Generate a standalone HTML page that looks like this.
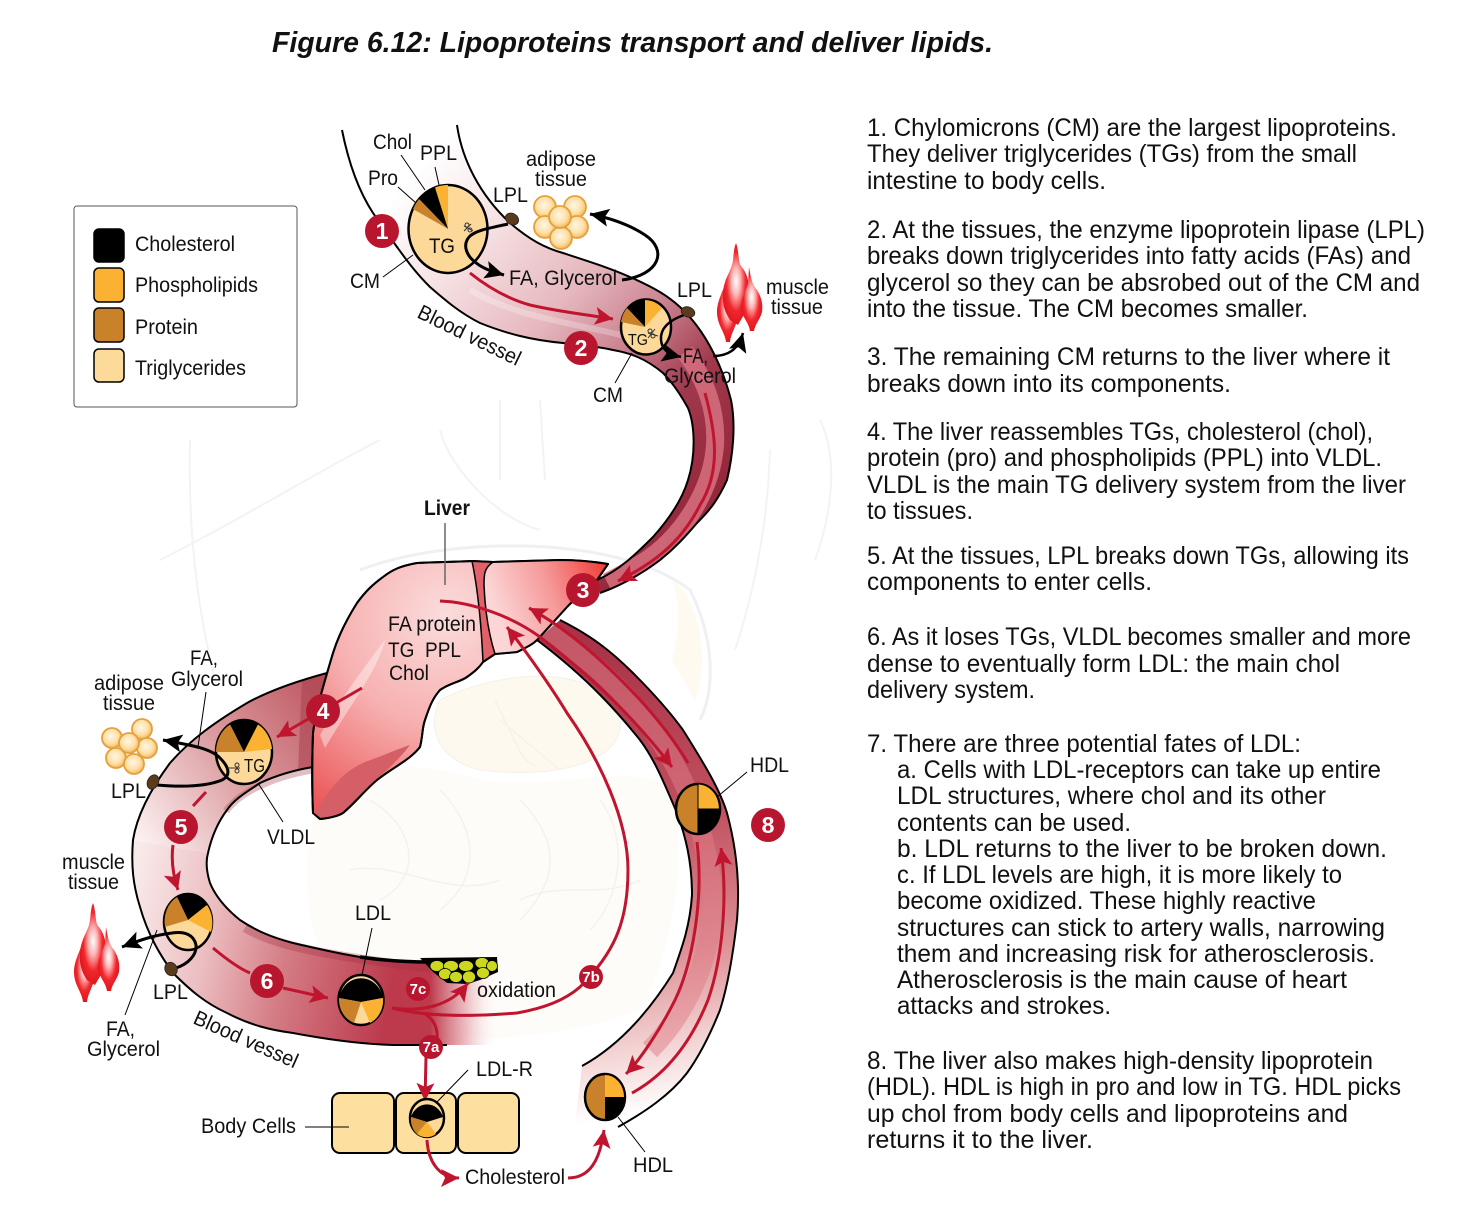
<!DOCTYPE html>
<html><head><meta charset="utf-8"><style>
html,body{margin:0;padding:0;background:#fff}
svg{display:block}
text{font-family:"Liberation Sans",Arial,sans-serif;fill:#111}
.l{font-size:21px}
.r{font-size:25px;fill:#0c0c0c}
</style></head><body>
<svg xmlns="http://www.w3.org/2000/svg" width="1474" height="1210" viewBox="0 0 1474 1210">
<defs>
<linearGradient id="v1" gradientUnits="userSpaceOnUse" x1="400" y1="190" x2="720" y2="480">
<stop offset="0" stop-color="#fff"/><stop offset=".2" stop-color="#f6e3e5"/><stop offset=".45" stop-color="#e6b8be"/><stop offset=".62" stop-color="#cc8592"/><stop offset=".8" stop-color="#a0384c"/><stop offset="1" stop-color="#96283c"/></linearGradient>
<linearGradient id="v2" gradientUnits="userSpaceOnUse" x1="560" y1="640" x2="640" y2="1115">
<stop offset="0" stop-color="#a83246"/><stop offset=".4" stop-color="#c0505f"/><stop offset=".68" stop-color="#dd9095"/><stop offset=".86" stop-color="#f3d2d2"/><stop offset="1" stop-color="#fff"/></linearGradient>
<linearGradient id="v3a" gradientUnits="userSpaceOnUse" x1="325" y1="700" x2="140" y2="835">
<stop offset="0" stop-color="#c05a64"/><stop offset=".5" stop-color="#dc9ea2"/><stop offset="1" stop-color="#fbeeee"/></linearGradient>
<linearGradient id="v3b" gradientUnits="userSpaceOnUse" x1="130" y1="895" x2="400" y2="950">
<stop offset="0" stop-color="#f9eaea"/><stop offset=".3" stop-color="#ecbfc2"/><stop offset=".6" stop-color="#d47c84"/><stop offset="1" stop-color="#bc3a4c"/></linearGradient>
<linearGradient id="fade" gradientUnits="userSpaceOnUse" x1="430" y1="0" x2="500" y2="0">
<stop offset="0" stop-color="#bc3a4c"/><stop offset=".5" stop-color="#e6a8ae" stop-opacity=".8"/><stop offset="1" stop-color="#fff" stop-opacity="0"/></linearGradient>
<radialGradient id="lv" gradientUnits="userSpaceOnUse" cx="445" cy="615" r="225">
<stop offset="0" stop-color="#fbdcdc"/><stop offset=".5" stop-color="#f7b0b0"/><stop offset="1" stop-color="#ec5a5c"/></radialGradient>
<linearGradient id="lr" gradientUnits="userSpaceOnUse" x1="495" y1="610" x2="605" y2="570">
<stop offset="0" stop-color="#fcd6d6"/><stop offset=".5" stop-color="#f59a9a"/><stop offset="1" stop-color="#f2423c"/></linearGradient>
<radialGradient id="fat" cx=".45" cy=".42" r=".6"><stop offset="0" stop-color="#fff6e4"/><stop offset=".6" stop-color="#fde0a8"/><stop offset="1" stop-color="#f4b456"/></radialGradient>
<radialGradient id="ms" cx=".5" cy=".47" r=".55"><stop offset="0" stop-color="#fff"/><stop offset=".3" stop-color="#ffb6b6"/><stop offset=".65" stop-color="#f0282e"/><stop offset="1" stop-color="#e0141c"/></radialGradient>
<marker id="rh" markerUnits="userSpaceOnUse" markerWidth="24" markerHeight="20" refX="18" refY="9" orient="auto"><path d="M0 0L18 9L0 18L4 9Z" fill="#c0152f"/></marker>
<marker id="bh" markerUnits="userSpaceOnUse" markerWidth="24" markerHeight="20" refX="19" refY="9" orient="auto"><path d="M0 0L19 9L0 18L4 9Z" fill="#000"/></marker>
<g id="muscle">
<path d="M727 278C730 290 738 300 738 312C738 325 731 332 730 342L726 342C725 332 717 325 717 312C717 300 724 290 727 278Z" fill="url(#ms)"/>
<path d="M736 243C739 250 738 262 741 266C748 274 750 285 749 295C748 310 742 318 738 325L730 320C725 312 722 305 723 292C724 280 730 272 732 265C734 258 733 250 736 243Z" fill="url(#ms)"/>
<path d="M749 267C751 278 752 284 757 290C762 298 763 305 762 312C760 320 755 324 754 331L750 331C749 323 743 318 741 310C740 300 746 290 748 284Z" fill="url(#ms)"/>
</g>
</defs>

<!-- faint anatomy -->
<g fill="none" stroke="#f5f3f0" stroke-width="2">
<path d="M190 440C188 520 195 600 215 680"/><path d="M770 450C768 520 755 590 735 650"/>
<path d="M160 560C240 520 320 470 380 440"/><path d="M820 420C840 460 830 520 815 560"/>
<path d="M500 400L500 480M540 400L545 480"/>
<path d="M440 430C450 470 500 520 540 530"/>
</g>
<path d="M360 570C450 535 620 535 690 590C715 640 715 690 700 720" fill="none" stroke="#eef0f2" stroke-width="3"/>
<path d="M440 700C500 670 600 660 620 720C625 760 560 780 480 770C440 760 425 730 440 700Z" fill="#fdf9ef" stroke="#f2f1ea"/>
<path d="M320 800C360 760 420 760 480 780C560 790 640 760 672 790C690 860 670 960 640 1010C560 1040 440 1050 380 1020C310 980 290 880 320 800Z" fill="#fefcf8"/>
<g fill="none" stroke="#f5f2ee" stroke-width="1.5">
<path d="M370 800C420 830 420 880 380 900M440 790C480 830 480 880 440 910M520 800C560 840 560 880 520 920M600 800C630 840 620 900 590 930"/>
<path d="M350 870C400 860 450 900 500 880M520 900C560 880 600 900 640 880"/>
<path d="M495 700C520 750 520 760 535 765M500 720L560 770"/>
</g>
<path d="M672 580C700 600 710 660 695 700L672 660C680 630 680 600 672 580Z" fill="#fefaef"/>

<!-- vessel 1 -->
<path d="M457 125C462 160 480 195 510 223C530 240 545 248 563 253C590 262 610 268 630 277C655 288 668 296 680 307C705 330 722 365 731 400C736 425 733 455 727 480C718 500 710 510 697 523C685 537 675 548 660 560C640 575 620 586 600 593L597 580C620 570 637 553 653 537C670 518 682 500 688 480C696 455 695 425 688 408C678 390 670 380 663 373C645 358 630 353 613 350C590 345 575 345 563 343C530 340 505 333 480 323C460 313 445 300 430 287C415 272 405 258 397 247L373 213C358 190 348 160 342 130Z" fill="url(#v1)"/>
<path d="M685 352C705 378 717 410 715 445C712 490 682 538 642 563C628 571 615 578 607 582" fill="none" stroke="#d6707f" stroke-width="18" opacity=".85"/>
<path d="M470 290C520 320 590 325 640 340" fill="none" stroke="#fff" stroke-width="6" opacity=".25"/>
<path d="M342 130C348 160 358 190 373 213L397 247C405 258 415 272 430 287C445 300 460 313 480 323C505 333 530 340 563 343C575 345 590 345 613 350C630 353 645 358 663 373C670 380 678 390 688 408C695 425 696 455 688 480C682 500 670 518 653 537C637 553 620 570 597 580" fill="none" stroke="#000" stroke-width="2"/>
<path d="M457 125C462 160 480 195 510 223C530 240 545 248 563 253C590 262 610 268 630 277C655 288 668 296 680 307C705 330 722 365 731 400C736 425 733 455 727 480C718 500 710 510 697 523C685 537 675 548 660 560C640 575 620 586 600 593" fill="none" stroke="#000" stroke-width="2"/>

<!-- vessel 2 -->
<path d="M560 620C590 635 610 650 633 673C655 695 670 712 683 730C705 765 720 790 727 813C737 850 740 885 737 920C733 955 728 985 720 1010C710 1035 700 1055 687 1073C670 1095 645 1112 620 1127L575 1125L582 1066C620 1045 650 1010 673 973C683 945 690 925 692 895C692 860 685 835 677 813C665 785 655 760 640 740C620 715 590 680 537 640Z" fill="url(#v2)"/>
<path d="M545 630C600 665 640 705 672 760C695 800 708 850 712 890C715 950 690 1010 650 1050" fill="none" stroke="#e07e88" stroke-width="20" opacity=".5"/>
<path d="M560 620C590 635 610 650 633 673C655 695 670 712 683 730C705 765 720 790 727 813C737 850 740 885 737 920C733 955 728 985 720 1010C710 1035 700 1055 687 1073C670 1095 645 1112 618 1127" fill="none" stroke="#000" stroke-width="2"/>
<path d="M582 1066C620 1045 650 1010 673 973C683 945 690 925 692 895C692 860 685 835 677 813C665 785 655 760 640 740C620 715 590 680 537 640" fill="none" stroke="#000" stroke-width="2"/>

<!-- vessel 3 -->
<path d="M327 673C290 683 265 693 247 703C215 722 190 740 170 763C150 790 137 815 133 840L208 853C212 835 218 822 227 810C235 798 250 790 260 783C275 776 295 770 313 767Z" fill="url(#v3a)"/>
<path d="M327 673L313 767C308 768 303 769 298 771L302 681Z" fill="#a94450" opacity=".55"/>
<path d="M226 811C236 798 250 790 262 785C276 778 295 773 312 770" fill="none" stroke="#a94450" stroke-width="7" opacity=".35"/>
<path d="M133 840C131 865 133 885 140 907C148 935 160 955 173 973C190 990 205 1003 227 1013C250 1025 270 1030 293 1033C330 1040 360 1044 393 1045L431 1045L431 963L427 963C400 962 380 960 360 957C335 953 315 948 293 943C270 937 255 930 240 920C225 908 215 895 210 883C206 870 206 860 208 853Z" fill="url(#v3b)"/>
<path d="M245 928C275 945 320 955 430 968" fill="none" stroke="#9a2a3e" stroke-width="9" opacity=".3"/>
<path d="M430 963H505V1045H430Z" fill="url(#fade)"/>
<path d="M327 673C290 683 265 693 247 703C215 722 190 740 170 763C150 790 137 815 133 840C131 865 133 885 140 907C148 935 160 955 173 973C190 990 205 1003 227 1013C250 1025 270 1030 293 1033C330 1040 360 1044 393 1045L447 1045" fill="none" stroke="#000" stroke-width="2"/>
<path d="M313 767C295 770 275 776 260 783C250 790 235 798 227 810C218 822 212 835 208 853C206 860 206 870 210 883C215 895 225 908 240 920C255 930 270 937 293 943C315 948 335 953 360 957" fill="none" stroke="#000" stroke-width="2"/>
<path d="M360 957C380 960 400 962 430 962" fill="none" stroke="#000" stroke-width="3.5"/>

<!-- liver -->
<path d="M472 561C450 562 435 562 417 563C400 566 392 570 383 577C372 585 365 592 357 603C345 622 338 637 333 653C322 690 316 710 313 733C312 760 312 790 313 813L320 819C330 818 338 816 343 813C355 803 365 790 377 780C392 768 410 760 420 747C423 735 422 728 425 720C430 705 433 698 440 690C450 683 460 682 467 677C474 672 479 668 483 662L495 654L517 652C525 648 532 645 537 640C548 628 558 617 567 607C577 596 588 590 597 580L608 564C590 561 575 560 560 560L493 562Z" fill="url(#lv)" stroke="#000" stroke-width="2" stroke-linejoin="round"/>
<path d="M493 562C487 566 484 570 484 580C484 600 487 620 489 640C490 650 493 652 495 654L517 652C525 648 532 645 537 640C548 628 558 617 567 607C577 596 588 590 597 580L608 564C590 561 575 560 560 560Z" fill="url(#lr)"/>
<path d="M472 561L493 562C484 568 484 575 484 585C485 610 489 635 495 654L483 662C482 640 480 600 472 561Z" fill="#e0616a" stroke="#000" stroke-width="1.5"/>
<path d="M313 813C325 800 335 775 365 762C385 755 395 750 410 745C395 765 375 780 355 800C345 812 330 818 320 819Z" fill="#d55f66"/>
<path d="M320 735C340 700 362 670 385 640C378 670 350 705 325 748Z" fill="#fff" opacity=".4"/>
<path d="M472 561C450 562 435 562 417 563C400 566 392 570 383 577C372 585 365 592 357 603C345 622 338 637 333 653C322 690 316 710 313 733C312 760 312 790 313 813L320 819C330 818 338 816 343 813C355 803 365 790 377 780C392 768 410 760 420 747C423 735 422 728 425 720C430 705 433 698 440 690C450 683 460 682 467 677C474 672 479 668 483 662L495 654L517 652C525 648 532 645 537 640C548 628 558 617 567 607C577 596 588 590 597 580L608 564C590 561 575 560 560 560L493 562Z" fill="none" stroke="#000" stroke-width="2" stroke-linejoin="round"/>

<!-- cells -->
<g fill="#fddf9f" stroke="#000" stroke-width="2">
<rect x="332" y="1093" width="62" height="60" rx="8"/><rect x="396" y="1093" width="60" height="60" rx="8"/><rect x="458" y="1093" width="61" height="60" rx="8"/>
</g>

<!-- plaque -->
<path d="M420 958L497 957L498 972L480 980L467 984L447 983L433 972Z" fill="#000"/>
<g fill="#cbd81f" stroke="#000" stroke-width=".8">
<ellipse cx="437" cy="966" rx="7" ry="5.500"/><ellipse cx="451" cy="966" rx="7.500" ry="5.500"/><ellipse cx="466" cy="966" rx="7.500" ry="5.500"/><ellipse cx="482" cy="963" rx="7" ry="5.500"/><ellipse cx="492" cy="966" rx="5.500" ry="5.500"/><ellipse cx="445" cy="974" rx="6.500" ry="5.500"/><ellipse cx="456" cy="977" rx="6.500" ry="5.500"/><ellipse cx="469" cy="977" rx="6.500" ry="6"/><ellipse cx="483" cy="973" rx="6.500" ry="5.500"/>
</g>

<!-- red arrows -->
<g fill="none" stroke="#c0152f" stroke-width="3">
<path d="M470 273C485 285 505 298 530 305C560 312 590 315 613 319" marker-end="url(#rh)"/>
<path d="M705 393C715 430 722 470 700 505C680 545 650 565 618 581" marker-end="url(#rh)"/>
<path d="M440 601C470 602 510 615 540 637C570 660 625 705 672 767" marker-end="url(#rh)"/>
<path d="M688 763C665 725 635 692 600 660C580 642 555 622 529 608" marker-end="url(#rh)"/>
<path d="M697 842C704 900 692 965 675 1000C660 1030 640 1060 626 1074" marker-end="url(#rh)"/>
<path d="M632 1093C665 1075 690 1045 708 1000C722 960 728 900 721 848" marker-end="url(#rh)"/>
<path d="M392 1008C430 1018 480 1016 517 1013C545 1008 565 1000 580 987C612 955 628 925 628 870C628 820 600 760 567 713C550 685 525 650 507 627" marker-end="url(#rh)"/>
<path d="M392 1008C420 1012 450 1007 468 983" marker-end="url(#rh)"/>
<path d="M424 1013C435 1020 438 1030 437 1040L426 1057L425 1101" marker-end="url(#rh)"/>
<path d="M427 1140C428 1160 438 1178 459 1178" marker-end="url(#rh)"/>
<path d="M568 1178C590 1178 600 1160 604 1130" marker-end="url(#rh)"/>
<path d="M362 688L277 737" marker-end="url(#rh)"/>
<path d="M206 792L193 806M173 845C171 860 173 875 178 890" marker-end="url(#rh)"/>
<path d="M213 948C225 958 238 968 250 973M283 988L328 998" marker-end="url(#rh)"/>
</g>

<!-- leader lines -->
<g stroke="#000" stroke-width="1" fill="none">
<path d="M383 277L413 255M398 187L416 203M401 155L425 190M435 167L439 185M615 383L632 353M206 692L198 747M258 783L283 822M372 928L362 975M125 1015L157 930M747 772L717 797M618 1117L645 1152M468 1070L437 1102M305 1127H349"/>
</g>
<path d="M445 523V585" stroke="#666" stroke-width="1.500"/>

<!-- CM 1 -->
<ellipse cx="448" cy="229" rx="39.500" ry="44" fill="#fcd998" stroke="#000" stroke-width="2.500"/>
<path d="M448 229L448 185A39.500 44 0 0 0 435 187.500Z" fill="#fbb233"/>
<path d="M448 229L435 187.500A39.500 44 0 0 0 419 199Z" fill="#000"/>
<path d="M448 229L419 199A39.500 44 0 0 0 413 209Z" fill="#c9822a"/>
<!-- CM 2 -->
<ellipse cx="646" cy="327" rx="25" ry="27.500" fill="#fcd998" stroke="#000" stroke-width="2.500"/>
<path d="M645 327V300A25 27 0 0 1 662 308Z" fill="#fbb233"/>
<path d="M645 327V300A25 27 0 0 0 627 308Z" fill="#000"/>
<path d="M645 327L627 308A25 27 0 0 0 621 322Z" fill="#c9822a"/>
<!-- VLDL -->
<ellipse cx="244" cy="752" rx="28" ry="32" fill="#fcd998" stroke="#000" stroke-width="2.500"/>
<path d="M244 752L230 724.500A28 32 0 0 1 258 724.500Z" fill="#000"/>
<path d="M244 752L258 724.500A28 32 0 0 1 272 749Z" fill="#fbb233"/>
<path d="M244 752L230 724.500A28 32 0 0 0 216 752Z" fill="#c9822a"/>
<!-- 5 -->
<ellipse cx="188" cy="922" rx="24" ry="28" fill="#fcd998" stroke="#000" stroke-width="2.500"/>
<path d="M188 920L177 897A24 28 0 0 1 207 905Z" fill="#000"/>
<path d="M188 920L207 905A24 28 0 0 1 211 932Z" fill="#fbb233"/>
<path d="M188 920L177 897A24 28 0 0 0 165 927Z" fill="#c9822a"/>
<!-- LDL -->
<ellipse cx="361" cy="1000" rx="22.500" ry="25" fill="#fcd998" stroke="#000" stroke-width="2.500"/>
<path d="M339 998A22.500 25 0 0 1 383 998L361 1002Z" fill="#000"/>
<path d="M361 1002L339 998A22.500 25 0 0 0 354 1023Z" fill="#c9822a"/>
<path d="M361 1002L383 998A22.500 25 0 0 1 370 1023Z" fill="#fbb233"/>
<!-- HDL -->
<ellipse cx="698" cy="809" rx="22" ry="25" fill="#c9822a" stroke="#000" stroke-width="2.500"/>
<path d="M698 809V784.500A21 24.500 0 0 1 719 809Z" fill="#fbb233"/>
<path d="M698 809H719A21 24.500 0 0 1 698 833.500Z" fill="#000"/>
<path d="M698 784V834M698 809H720" stroke="#000" stroke-width="1"/>
<ellipse cx="605" cy="1097" rx="20" ry="23" fill="#c9822a" stroke="#000" stroke-width="2.500"/>
<path d="M605 1097V1075A19 22 0 0 1 624 1097Z" fill="#fbb233"/>
<path d="M605 1097H624A19 22 0 0 1 605 1119Z" fill="#000"/>
<!-- Cell LDL -->
<ellipse cx="427" cy="1118" rx="17" ry="19" fill="#fcd998" stroke="#000" stroke-width="2.500"/>
<path d="M411 1117A17 19 0 0 1 443 1117L427 1122Z" fill="#000"/>
<path d="M427 1122L411 1117A17 19 0 0 0 417 1134Z" fill="#c9822a"/>
<path d="M427 1122L417 1134A17 19 0 0 0 436 1134Z" fill="#fbb233"/>

<!-- enzymes + black arrows -->
<g fill="none" stroke="#000" stroke-width="3">
<path d="M508 224C490 228 477 230 470 236C462 244 466 255 475 262C482 268 490 271 504 275" marker-end="url(#bh)"/>
<path d="M622 280C660 275 668 250 645 235C630 225 610 218 590 214" marker-end="url(#bh)"/>
<path d="M684 315C670 320 660 328 661 340C662 350 668 354 681 357" stroke-width="2.500" marker-end="url(#bh)"/>
<path d="M713 356C728 356 738 350 743 333" stroke-width="2.500" marker-end="url(#bh)"/>
<path d="M157 785C180 787 205 787 222 780C232 775 228 766 220 758C210 748 190 745 163 740" marker-end="url(#bh)"/>
<path d="M176 968C188 964 197 955 196 945C194 935 185 931 172 933C155 935 140 940 122 947" marker-end="url(#bh)"/>
</g>
<g fill="#5c3a1c" stroke="#222" stroke-width=".8">
<ellipse cx="512" cy="219" rx="7" ry="5.500" transform="rotate(30 512 219)"/>
<ellipse cx="688" cy="312" rx="7" ry="5" transform="rotate(20 688 312)"/>
<ellipse cx="153" cy="782" rx="5.500" ry="7.500" transform="rotate(25 153 782)"/>
<ellipse cx="171" cy="969" rx="6" ry="7" transform="rotate(-30 171 969)"/>
</g>
<!-- scissors -->
<g fill="none" stroke="#333" stroke-width="1">
<circle cx="467" cy="225" r="2"/><circle cx="470" cy="230" r="2"/><path d="M471 224L464 231M464 226L473 231"/>
<circle cx="650" cy="331" r="2"/><circle cx="653" cy="336" r="2"/><path d="M655 329L648 338M648 333L658 336"/>
<circle cx="237" cy="765" r="2"/><circle cx="237" cy="771" r="2"/><path d="M228 768H240"/>
</g>

<!-- fat -->
<g fill="url(#fat)" stroke="#e6a03c" stroke-width="1.800">
<circle cx="545" cy="207" r="11"/><circle cx="575" cy="207" r="11"/><circle cx="545" cy="227" r="11"/><circle cx="577" cy="227" r="11"/><circle cx="561" cy="238" r="11"/><circle cx="560" cy="217" r="11"/>
<circle cx="112" cy="738" r="10"/><circle cx="142" cy="729" r="10"/><circle cx="147" cy="748" r="10"/><circle cx="116" cy="758" r="10"/><circle cx="134" cy="764" r="10"/><circle cx="129" cy="743" r="10"/>
</g>
<use href="#muscle"/>
<use href="#muscle" transform="translate(-643,660)"/>

<!-- badges -->
<g fill="#b8162e">
<circle cx="382" cy="231" r="17"/><circle cx="581" cy="348" r="17"/><circle cx="583" cy="590" r="17"/><circle cx="323" cy="711" r="17"/><circle cx="181" cy="827" r="17"/><circle cx="267" cy="981" r="17"/><circle cx="768" cy="825" r="17"/>
<circle cx="431" cy="1047" r="12"/><circle cx="591" cy="977" r="12"/><circle cx="418" cy="989" r="12"/>
</g>
<g style="font-weight:bold;font-size:23px" text-anchor="middle">
<text x="382" y="239" style="fill:#fff">1</text><text x="581" y="356" style="fill:#fff">2</text><text x="583" y="598" style="fill:#fff">3</text><text x="323" y="719" style="fill:#fff">4</text><text x="181" y="835" style="fill:#fff">5</text><text x="267" y="989" style="fill:#fff">6</text><text x="768" y="833" style="fill:#fff">8</text>
</g>
<g style="font-weight:bold;font-size:15px" text-anchor="middle">
<text x="431" y="1052" style="fill:#fff">7a</text><text x="591" y="982" style="fill:#fff">7b</text><text x="418" y="994" style="fill:#fff">7c</text>
</g>

<!-- legend -->
<rect x="74" y="206" width="223" height="201" rx="3" fill="#fff" stroke="#555" stroke-width="1"/>
<g stroke="#000" stroke-width="1.500">
<rect x="94" y="229" width="30" height="33" rx="5" fill="#000"/>
<rect x="94" y="268" width="30" height="34" rx="5" fill="#fbb233"/>
<rect x="94" y="308" width="30" height="34" rx="5" fill="#c9822a"/>
<rect x="94" y="349" width="30" height="33" rx="5" fill="#fcdb9a"/>
</g>
<g class="l" transform="translate(0,-1)">
<text x="135" y="252" textLength="100" lengthAdjust="spacingAndGlyphs">Cholesterol</text>
<text x="135" y="293" textLength="123" lengthAdjust="spacingAndGlyphs">Phospholipids</text>
<text x="135" y="335" textLength="63" lengthAdjust="spacingAndGlyphs">Protein</text>
<text x="135" y="376" textLength="111" lengthAdjust="spacingAndGlyphs">Triglycerides</text>
</g>

<!-- diagram labels -->
<g class="l" transform="translate(0,-1)">
<text x="373" y="150" textLength="39" lengthAdjust="spacingAndGlyphs">Chol</text>
<text x="420" y="161" textLength="37" lengthAdjust="spacingAndGlyphs">PPL</text>
<text x="368" y="186" textLength="30" lengthAdjust="spacingAndGlyphs">Pro</text>
<text x="526" y="167" textLength="70" lengthAdjust="spacingAndGlyphs">adipose</text>
<text x="535" y="187" textLength="52" lengthAdjust="spacingAndGlyphs">tissue</text>
<text x="493" y="203" textLength="35" lengthAdjust="spacingAndGlyphs">LPL</text>
<text x="350" y="289" textLength="30" lengthAdjust="spacingAndGlyphs">CM</text>
<text x="429" y="254" textLength="26" lengthAdjust="spacingAndGlyphs">TG</text>
<text x="509" y="286" textLength="108" lengthAdjust="spacingAndGlyphs">FA, Glycerol</text>
<text x="677" y="298" textLength="35" lengthAdjust="spacingAndGlyphs">LPL</text>
<text x="766" y="295" textLength="63" lengthAdjust="spacingAndGlyphs">muscle</text>
<text x="771" y="315" textLength="52" lengthAdjust="spacingAndGlyphs">tissue</text>
<text x="683" y="364" textLength="25" lengthAdjust="spacingAndGlyphs">FA,</text>
<text x="664" y="384" textLength="72" lengthAdjust="spacingAndGlyphs">Glycerol</text>
<text x="593" y="403" textLength="30" lengthAdjust="spacingAndGlyphs">CM</text>
<text x="628" y="346" style="font-size:16px" textLength="20" lengthAdjust="spacingAndGlyphs">TG</text>
<text x="416" y="318" transform="rotate(26 416 318)" textLength="112" lengthAdjust="spacingAndGlyphs">Blood vessel</text>
<text x="192" y="1024" transform="rotate(24 192 1024)" textLength="112" lengthAdjust="spacingAndGlyphs">Blood vessel</text>
<text x="424" y="516" style="font-weight:bold" textLength="46" lengthAdjust="spacingAndGlyphs">Liver</text>
<text x="388" y="632" textLength="88" lengthAdjust="spacingAndGlyphs">FA protein</text>
<text x="388" y="658" textLength="73" lengthAdjust="spacingAndGlyphs" xml:space="preserve">TG  PPL</text>
<text x="389" y="681" textLength="40" lengthAdjust="spacingAndGlyphs">Chol</text>
<text x="190" y="666" textLength="28" lengthAdjust="spacingAndGlyphs">FA,</text>
<text x="171" y="687" textLength="72" lengthAdjust="spacingAndGlyphs">Glycerol</text>
<text x="94" y="691" textLength="70" lengthAdjust="spacingAndGlyphs">adipose</text>
<text x="103" y="711" textLength="52" lengthAdjust="spacingAndGlyphs">tissue</text>
<text x="111" y="799" textLength="35" lengthAdjust="spacingAndGlyphs">LPL</text>
<text x="244" y="773" style="font-size:18px" textLength="21" lengthAdjust="spacingAndGlyphs">TG</text>
<text x="267" y="845" textLength="48" lengthAdjust="spacingAndGlyphs">VLDL</text>
<text x="62" y="870" textLength="63" lengthAdjust="spacingAndGlyphs">muscle</text>
<text x="68" y="890" textLength="51" lengthAdjust="spacingAndGlyphs">tissue</text>
<text x="355" y="921" textLength="36" lengthAdjust="spacingAndGlyphs">LDL</text>
<text x="153" y="1000" textLength="35" lengthAdjust="spacingAndGlyphs">LPL</text>
<text x="106" y="1037" textLength="29" lengthAdjust="spacingAndGlyphs">FA,</text>
<text x="87" y="1057" textLength="73" lengthAdjust="spacingAndGlyphs">Glycerol</text>
<text x="477" y="998" textLength="79" lengthAdjust="spacingAndGlyphs">oxidation</text>
<text x="750" y="773" textLength="39" lengthAdjust="spacingAndGlyphs">HDL</text>
<text x="476" y="1077" textLength="57" lengthAdjust="spacingAndGlyphs">LDL-R</text>
<text x="201" y="1134" textLength="95" lengthAdjust="spacingAndGlyphs">Body Cells</text>
<text x="465" y="1185" textLength="100" lengthAdjust="spacingAndGlyphs">Cholesterol</text>
<text x="633" y="1173" textLength="40" lengthAdjust="spacingAndGlyphs">HDL</text>
</g>

<!-- title -->
<text x="272" y="52" style="font-size:29px;font-weight:bold;font-style:italic" textLength="721" lengthAdjust="spacingAndGlyphs">Figure 6.12: Lipoproteins transport and deliver lipids.</text>

<!-- right text -->
<g class="r" transform="translate(0,-1)">
<text x="867" y="137" textLength="530" lengthAdjust="spacingAndGlyphs">1. Chylomicrons (CM) are the largest lipoproteins.</text>
<text x="867" y="163" textLength="490" lengthAdjust="spacingAndGlyphs">They deliver triglycerides (TGs) from the small</text>
<text x="867" y="190" textLength="239" lengthAdjust="spacingAndGlyphs">intestine to body cells.</text>
<text x="867" y="239" textLength="558" lengthAdjust="spacingAndGlyphs">2. At the tissues, the enzyme lipoprotein lipase (LPL)</text>
<text x="867" y="265" textLength="544" lengthAdjust="spacingAndGlyphs">breaks down triglycerides into fatty acids (FAs) and</text>
<text x="867" y="292" textLength="553" lengthAdjust="spacingAndGlyphs">glycerol so they can be absrobed out of the CM and</text>
<text x="867" y="318" textLength="441" lengthAdjust="spacingAndGlyphs">into the tissue. The CM becomes smaller.</text>
<text x="867" y="366" textLength="523" lengthAdjust="spacingAndGlyphs">3. The remaining CM returns to the liver where it</text>
<text x="867" y="393" textLength="364" lengthAdjust="spacingAndGlyphs">breaks down into its components.</text>
<text x="867" y="441" textLength="506" lengthAdjust="spacingAndGlyphs">4. The liver reassembles TGs, cholesterol (chol),</text>
<text x="867" y="467" textLength="515" lengthAdjust="spacingAndGlyphs">protein (pro) and phospholipids (PPL) into VLDL.</text>
<text x="867" y="494" textLength="539" lengthAdjust="spacingAndGlyphs">VLDL is the main TG delivery system from the liver</text>
<text x="867" y="520" textLength="106" lengthAdjust="spacingAndGlyphs">to tissues.</text>
<text x="867" y="565" textLength="542" lengthAdjust="spacingAndGlyphs">5. At the tissues, LPL breaks down TGs, allowing its</text>
<text x="867" y="591" textLength="285" lengthAdjust="spacingAndGlyphs">components to enter cells.</text>
<text x="867" y="646" textLength="544" lengthAdjust="spacingAndGlyphs">6. As it loses TGs, VLDL becomes smaller and more</text>
<text x="867" y="673" textLength="473" lengthAdjust="spacingAndGlyphs">dense to eventually form LDL: the main chol</text>
<text x="867" y="699" textLength="168" lengthAdjust="spacingAndGlyphs">delivery system.</text>
<text x="867" y="753" textLength="434" lengthAdjust="spacingAndGlyphs">7. There are three potential fates of LDL:</text>
<text x="897" y="779" textLength="484" lengthAdjust="spacingAndGlyphs">a. Cells with LDL-receptors can take up entire</text>
<text x="897" y="805" textLength="429" lengthAdjust="spacingAndGlyphs">LDL structures, where chol and its other</text>
<text x="897" y="832" textLength="234" lengthAdjust="spacingAndGlyphs">contents can be used.</text>
<text x="897" y="858" textLength="490" lengthAdjust="spacingAndGlyphs">b. LDL returns to the liver to be broken down.</text>
<text x="897" y="884" textLength="445" lengthAdjust="spacingAndGlyphs">c. If LDL levels are high, it is more likely to</text>
<text x="897" y="910" textLength="419" lengthAdjust="spacingAndGlyphs">become oxidized. These highly reactive</text>
<text x="897" y="937" textLength="488" lengthAdjust="spacingAndGlyphs">structures can stick to artery walls, narrowing</text>
<text x="897" y="963" textLength="478" lengthAdjust="spacingAndGlyphs">them and increasing risk for atherosclerosis.</text>
<text x="897" y="989" textLength="450" lengthAdjust="spacingAndGlyphs">Atherosclerosis is the main cause of heart</text>
<text x="897" y="1015" textLength="214" lengthAdjust="spacingAndGlyphs">attacks and strokes.</text>
<text x="867" y="1070" textLength="506" lengthAdjust="spacingAndGlyphs">8. The liver also makes high-density lipoprotein</text>
<text x="867" y="1096" textLength="534" lengthAdjust="spacingAndGlyphs">(HDL). HDL is high in pro and low in TG. HDL picks</text>
<text x="867" y="1123" textLength="481" lengthAdjust="spacingAndGlyphs">up chol from body cells and lipoproteins and</text>
<text x="867" y="1149" textLength="226" lengthAdjust="spacingAndGlyphs">returns it to the liver.</text>
</g>
</svg>
</body></html>
